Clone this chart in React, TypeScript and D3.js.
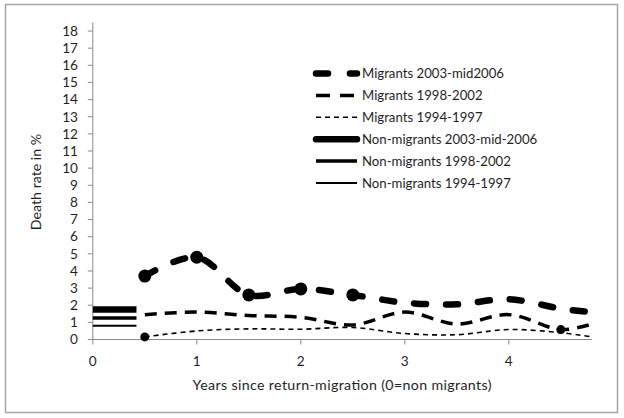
import React from "react";
import * as d3 from "d3";

const xYears = [0.5, 1, 1.5, 2, 2.5, 3, 3.5, 4, 4.5, 4.8];
const migrants2003 = [3.7, 4.8, 2.6, 2.95, 2.6, 2.15, 2.05, 2.35, 1.8, 1.6];
const migrants1998 = [1.45, 1.6, 1.4, 1.3, 0.85, 1.6, 0.9, 1.45, 0.58, 0.9];
const migrants1994 = [0.15, 0.5, 0.62, 0.6, 0.7, 0.35, 0.28, 0.58, 0.4, 0.15];
const markers2003 = [0, 1, 2, 3, 4];
const markers1998 = [8];
const markers1994 = [0];
const nonMigrantX = [0, 0.42];
const nonMigrant2003 = 1.75;
const nonMigrant1998 = 1.25;
const nonMigrant1994 = 0.8;
const yTicks = d3.range(0, 19);
const xTicks = [0, 1, 2, 3, 4];
const legendLabels = [
  "Migrants 2003-mid2006",
  "Migrants 1998-2002",
  "Migrants 1994-1997",
  "Non-migrants 2003-mid-2006",
  "Non-migrants 1998-2002",
  "Non-migrants 1994-1997",
];

const W = 624;
const H = 418;
const font = "Lato, 'Open Sans', sans-serif";
const fs = 14.2;
const tickFs = 13.6;
const legendFs = 13.2;
const textColor = "#1f1f1f";
const axisColor = "#8a8a8a";

export default function App() {
  const x = d3.scaleLinear().domain([0, 4.8]).range([92.8, 592]);
  const y = d3.scaleLinear().domain([0, 18.5]).range([339.5, 22.5]);
  const line = d3
    .line<[number, number]>()
    .x((d) => x(d[0]))
    .y((d) => y(d[1]))
    .curve(d3.curveCatmullRom.alpha(0.5));
  const pts = (vals: number[]) => xYears.map((xv, i) => [xv, vals[i]] as [number, number]);

  const styles = [
    { w: 6.5, dash: "12,20", cap: "round" },
    { w: 3.5, dash: "12,8", cap: "butt" },
    { w: 1.6, dash: "5,4", cap: "butt" },
    { w: 6.5, dash: "", cap: "round" },
    { w: 3.5, dash: "", cap: "butt" },
    { w: 2, dash: "", cap: "butt" },
  ];

  const nm = [nonMigrant2003, nonMigrant1998, nonMigrant1994];

  return (
    <svg
      width={W}
      height={H}
      style={{ position: "absolute", left: 0, top: 0, background: "#fff" }}
    >
      <rect x={5.5} y={4.5} width={612} height={408} fill="#fff" stroke="#a6a6a6" strokeWidth={1.5} />
      {/* axes */}
      <line x1={x(0)} x2={x(0)} y1={y(18.5)} y2={y(0)} stroke={axisColor} strokeWidth={1} />
      <line x1={x(0)} x2={x(4.8)} y1={y(0)} y2={y(0)} stroke={axisColor} strokeWidth={1} />
      {yTicks.map((t) => (
        <g key={"y" + t}>
          <line x1={x(0) - 5} x2={x(0)} y1={y(t)} y2={y(t)} stroke={axisColor} />
          <text
            x={78}
            y={y(t)}
            dy="0.35em"
            textAnchor="end"
            fontFamily={font}
            fontSize={tickFs}
            fill={textColor}
          >
            {t}
          </text>
        </g>
      ))}
      {xTicks.map((t) => (
        <g key={"x" + t}>
          <line x1={x(t)} x2={x(t)} y1={y(0)} y2={y(0) + 5} stroke={axisColor} />
          <text
            x={x(t)}
            y={361}
            dy="0.35em"
            textAnchor="middle"
            fontFamily={font}
            fontSize={tickFs}
            fill={textColor}
          >
            {t}
          </text>
        </g>
      ))}
      <text
        x={342}
        y={385}
        dy="0.35em"
        textAnchor="middle"
        fontFamily={font}
        fontSize={fs}
        fill={textColor}
        textLength={299}
        lengthAdjust="spacing"
      >
        Years since return-migration (0=non migrants)
      </text>
      <text
        transform={`translate(36,182) rotate(-90)`}
        dy="0.35em"
        textAnchor="middle"
        fontFamily={font}
        fontSize={fs}
        fill={textColor}
      >
        Death rate in %
      </text>

      {/* non-migrant reference lines */}
      {nm.map((v, i) => (
        <line
          key={"nm" + i}
          x1={x(nonMigrantX[0])}
          x2={x(nonMigrantX[1])}
          y1={y(v)}
          y2={y(v)}
          stroke="#000"
          strokeWidth={styles[i + 3].w}
          strokeLinecap="butt"
        />
      ))}

      {/* migrant series */}
      {[migrants2003, migrants1998, migrants1994].map((vals, i) => (
        <path
          key={"m" + i}
          d={line(pts(vals)) || ""}
          fill="none"
          stroke="#000"
          strokeWidth={styles[i].w}
          strokeDasharray={styles[i].dash}
          strokeLinecap={styles[i].cap as any}
        />
      ))}
      {markers2003.map((i) => (
        <circle key={"k3" + i} cx={x(xYears[i])} cy={y(migrants2003[i])} r={6.5} fill="#000" />
      ))}
      {markers1998.map((i) => (
        <circle key={"k8" + i} cx={x(xYears[i])} cy={y(migrants1998[i])} r={4.5} fill="#000" />
      ))}
      {markers1994.map((i) => (
        <circle key={"k4" + i} cx={x(xYears[i])} cy={y(migrants1994[i])} r={4.5} fill="#000" />
      ))}

      {/* legend */}
      {legendLabels.map((lab, i) => {
        const ly = 73.5 + i * 21.9;
        const s = styles[i];
        return (
          <g key={"lg" + i}>
            <line
              x1={316}
              x2={357}
              y1={ly}
              y2={ly}
              stroke="#000"
              strokeWidth={s.w}
              strokeDasharray={i === 0 ? "12,22" : i === 1 ? "14,10" : s.dash}
              strokeLinecap={s.cap as any}
            />
            <text
              x={362}
              y={ly}
              dy="0.35em"
              fontFamily={font}
              fontSize={legendFs}
              fill={textColor}
            >
              {lab}
            </text>
          </g>
        );
      })}
    </svg>
  );
}
